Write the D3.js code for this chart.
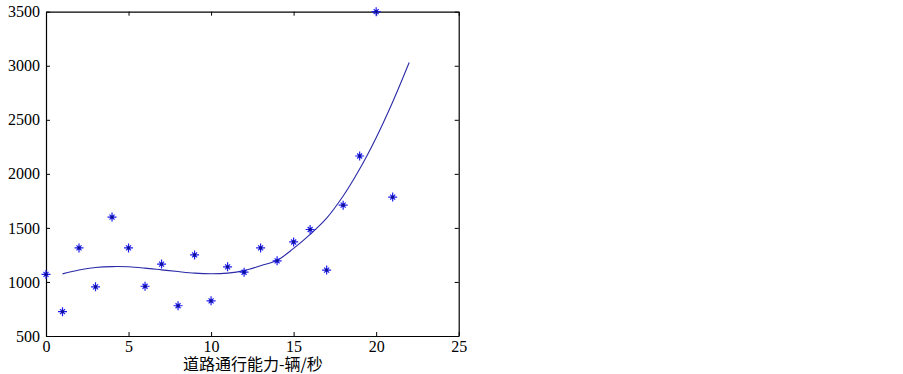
<!DOCTYPE html>
<html>
<head>
<meta charset="utf-8">
<script src="https://cdn.jsdelivr.net/npm/d3@7"></script>
<style>
  body { margin: 0; background: #fff; }
  svg text { font-family: "Liberation Serif", "DejaVu Serif", serif; }
</style>
</head>
<body>
<svg id="chart" width="903" height="374"></svg>
<script>
// measured points (x = 0..21)
var pointX = [0, 1, 2, 3, 4, 5, 6, 7, 8, 9, 10, 11, 12, 13, 14, 15, 16, 17, 18, 19, 20, 21];
var pointY = [1070, 725, 1315, 955, 1600, 1315, 960, 1165, 780, 1250, 825, 1140, 1090, 1315, 1195, 1370, 1485, 1110, 1710, 2165, 3500, 1785];

// fitted curve (x = 1..22)
var fitX = [1, 2, 3, 4, 5, 6, 7, 8, 9, 10, 11, 12, 13, 14, 15, 16, 17, 18, 19, 20, 21, 22];
var fitY = [1075, 1110, 1133, 1142, 1140, 1128, 1112, 1096, 1082, 1076, 1082, 1105, 1150, 1200, 1310, 1440, 1590, 1795, 2045, 2335, 2665, 3030];

var xTicks = [0, 5, 10, 15, 20, 25];
var yTicks = [500, 1000, 1500, 2000, 2500, 3000, 3500];
var xLabel = '道路通行能力-辆/秒';

var plotLeft = 46, plotRight = 458.7, plotTop = 11.7, plotBottom = 336;

var svg = d3.select('#chart');

var x = d3.scaleLinear().domain([0, 25]).range([plotLeft, plotRight]),
	y = d3.scaleLinear().domain([500, 3500]).range([plotBottom, plotTop]);

// axes box with inward ticks on all four sides
svg.append('g')
	.attr('transform', 'translate(0,' + plotBottom + ')')
	.call(d3.axisBottom(x).tickValues(xTicks).tickSizeInner(-4).tickSizeOuter(0).tickPadding(4))
	.call(function(g) { g.selectAll('text').attr('font-size', 16).attr('fill', '#000').attr('dy', '0.72em'); });

svg.append('g')
	.attr('transform', 'translate(0,' + plotTop + ')')
	.call(d3.axisTop(x).tickValues(xTicks).tickSizeInner(-4).tickSizeOuter(0).tickFormat(''));

svg.append('g')
	.attr('transform', 'translate(' + plotLeft + ',0)')
	.call(d3.axisLeft(y).tickValues(yTicks).tickFormat(d3.format('d')).tickSizeInner(-4).tickSizeOuter(0).tickPadding(6))
	.call(function(g) { g.selectAll('text').attr('font-size', 16).attr('fill', '#000'); });

svg.append('g')
	.attr('transform', 'translate(' + plotRight + ',0)')
	.call(d3.axisRight(y).tickValues(yTicks).tickSizeInner(-4).tickSizeOuter(0).tickFormat(''));

svg.selectAll('.domain').attr('stroke', '#000').attr('stroke-width', 1.2);
svg.selectAll('.tick line').attr('stroke', '#000');

// fitted curve
var fitData = fitX.map(function(v, i) { return [v, fitY[i]]; });
svg.append('path')
	.datum(fitData)
	.attr('fill', 'none')
	.attr('stroke', '#2a2aa8')
	.attr('stroke-width', 1.1)
	.attr('d', d3.line()
		.x(function(d) { return x(d[0]); })
		.y(function(d) { return y(d[1]); })
		.curve(d3.curveCatmullRom));

// star markers
var star = 'M-4.5,0H4.5M0,-4.5V4.5M-2.5,-2.5L2.5,2.5M-2.5,2.5L2.5,-2.5';
var pts = pointX.map(function(v, i) { return { x: v, y: pointY[i] }; });
var g = svg.selectAll('.pt')
		.data(pts)
	.enter().append('g')
		.attr('class', 'pt')
		.attr('transform', function(d) { return 'translate(' + x(d.x) + ',' + y(d.y) + ')'; });
g.append('path')
	.attr('d', star)
	.attr('stroke', '#1c1cf0')
	.attr('stroke-width', 1.2)
	.attr('fill', 'none');
g.append('circle')
	.attr('r', 1.6)
	.attr('fill', '#101090');

svg.append('text')
	.attr('x', (plotLeft + plotRight) / 2 + 0.5)
	.attr('y', 369.5)
	.attr('text-anchor', 'middle')
	.attr('font-size', 16)
	.style('font-family', '"Noto Sans CJK SC", sans-serif')
	.attr('fill', '#000')
	.text(xLabel);
</script>
</body>
</html>
